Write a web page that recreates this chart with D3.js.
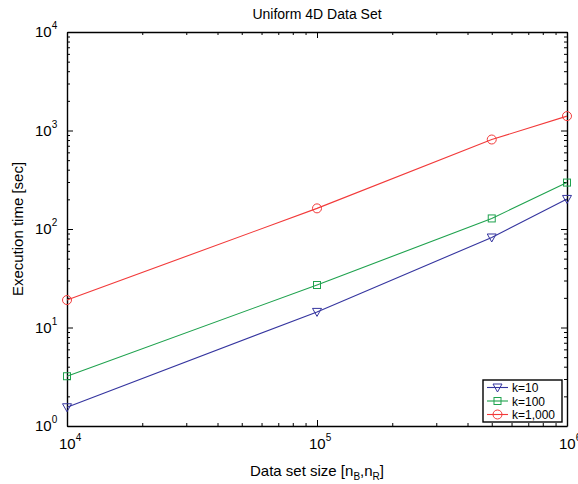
<!DOCTYPE html>
<html>
<head>
<meta charset="utf-8">
<script src="https://cdn.jsdelivr.net/npm/d3@7"></script>
<style>
  body { margin: 0; background: #fff; }
  text { font-family: "Liberation Sans", Arial, sans-serif; }
</style>
</head>
<body>
<svg id="chart" width="578" height="484"></svg>
<script>
// Data
const sizes = [1e4, 1e5, 5e5, 1e6];
const k10 = [1.55, 14.4, 82, 202];
const k100 = [3.2, 27, 128, 296];
const k1000 = [19, 162, 810, 1400];
const seriesNames = ['k=10', 'k=100', 'k=1,000'];
const xMajor = [1e4, 1e5, 1e6];
const yMajor = [1, 10, 100, 1000, 10000];

const colors = ['#35359f', '#1fa24e', '#f23a3a'];
const symbols = ['tri', 'square', 'circle'];

const margin = { top: 32, right: 11, bottom: 58, left: 67 };
const W = 578, H = 484;
const iw = W - margin.left - margin.right;
const ih = H - margin.top - margin.bottom;

const svg = d3.select('#chart');
const g = svg.append('g').attr('transform', `translate(${margin.left},${margin.top})`);

const x = d3.scaleLog().domain([1e4, 1e6]).range([0, iw]);
const y = d3.scaleLog().domain([1, 1e4]).range([ih, 0]);

const isMajor = v => Math.abs(Math.log10(v) - Math.round(Math.log10(v))) < 1e-9;

// axes with inside ticks on all four sides
function drawAxis(axisFn, scale, transform) {
  const a = g.append('g')
    .attr('transform', transform)
    .call(axisFn(scale).ticks(20).tickSizeOuter(0).tickSizeInner(-3).tickFormat(''));
  a.select('.domain').attr('stroke', '#000').attr('stroke-width', 1.4);
  a.selectAll('.tick line')
    .attr('stroke', '#000')
    .attr('stroke-width', 1)
    .each(function(d) {
      const ln = d3.select(this);
      if (isMajor(d)) {
        if (ln.attr('x2') != null) ln.attr('x2', +ln.attr('x2') * 2);
        if (ln.attr('y2') != null) ln.attr('y2', +ln.attr('y2') * 2);
      }
    });
}
drawAxis(d3.axisBottom, x, `translate(0,${ih})`);
drawAxis(d3.axisTop, x, 'translate(0,0)');
drawAxis(d3.axisLeft, y, 'translate(0,0)');
drawAxis(d3.axisRight, y, `translate(${iw},0)`);

// tick labels with superscripts
xMajor.forEach(v => {
  const t = g.append('text')
    .attr('x', x(v) - 8)
    .attr('y', ih + 23)
    .attr('font-size', 15)
    .attr('fill', '#000');
  t.append('tspan').text('10');
  t.append('tspan').attr('dy', -8).attr('font-size', 10).text(Math.round(Math.log10(v)));
});
yMajor.forEach(v => {
  const t = g.append('text')
    .attr('x', -32)
    .attr('y', y(v) + 5)
    .attr('font-size', 15)
    .attr('fill', '#000');
  t.append('tspan').text('10');
  t.append('tspan').attr('dy', -8).attr('font-size', 10).text(Math.round(Math.log10(v)));
});

// title and axis labels
svg.append('text')
  .attr('x', margin.left + iw / 2)
  .attr('y', 19)
  .attr('text-anchor', 'middle')
  .attr('font-size', 14)
  .text('Uniform 4D Data Set');

const xl = svg.append('text')
  .attr('x', margin.left + iw / 2)
  .attr('y', 476)
  .attr('text-anchor', 'middle')
  .attr('font-size', 15);
xl.append('tspan').text('Data set size [n');
xl.append('tspan').attr('dy', 4).attr('font-size', 10).text('B');
xl.append('tspan').attr('dy', -4).text(',n');
xl.append('tspan').attr('dy', 4).attr('font-size', 10).text('R');
xl.append('tspan').attr('dy', -4).text(']');

svg.append('text')
  .attr('transform', `translate(23,${margin.top + ih / 2}) rotate(-90)`)
  .attr('text-anchor', 'middle')
  .attr('font-size', 15)
  .text('Execution time [sec]');

// markers
function drawMarker(sel, type, color) {
  if (type === 'tri') {
    sel.append('path').attr('d', 'M-4.5,-3.5 L4.5,-3.5 L0,4.5 Z');
  } else if (type === 'square') {
    sel.append('rect').attr('x', -3.5).attr('y', -3.5).attr('width', 7).attr('height', 7);
  } else {
    sel.append('circle').attr('r', 4.5);
  }
  sel.selectAll('path,rect,circle')
    .attr('fill', 'none')
    .attr('stroke', color)
    .attr('stroke-width', 1);
}

const line = d3.line().x(d => x(d[0])).y(d => y(d[1]));
[k10, k100, k1000].forEach((vals, i) => {
  const pts = sizes.map((s, j) => [s, vals[j]]);
  g.append('path')
    .datum(pts)
    .attr('d', line)
    .attr('fill', 'none')
    .attr('stroke', colors[i])
    .attr('stroke-width', 1.1);
  pts.forEach(p => {
    const m = g.append('g').attr('transform', `translate(${x(p[0])},${y(p[1])})`);
    drawMarker(m, symbols[i], colors[i]);
  });
});

// legend
const lg = svg.append('g').attr('transform', 'translate(483,380)');
lg.append('rect')
  .attr('width', 79).attr('height', 42)
  .attr('fill', '#fff')
  .attr('stroke', '#000')
  .attr('stroke-width', 1.4);
seriesNames.forEach((name, i) => {
  const ry = 7.5 + i * 13.5;
  lg.append('line')
    .attr('x1', 4).attr('x2', 25)
    .attr('y1', ry).attr('y2', ry)
    .attr('stroke', colors[i]).attr('stroke-width', 1.1);
  const m = lg.append('g').attr('transform', `translate(14.5,${ry})`);
  drawMarker(m, symbols[i], colors[i]);
  lg.append('text')
    .attr('x', 29).attr('y', ry + 4.5)
    .attr('font-size', 12)
    .text(name);
});
</script>
</body>
</html>
